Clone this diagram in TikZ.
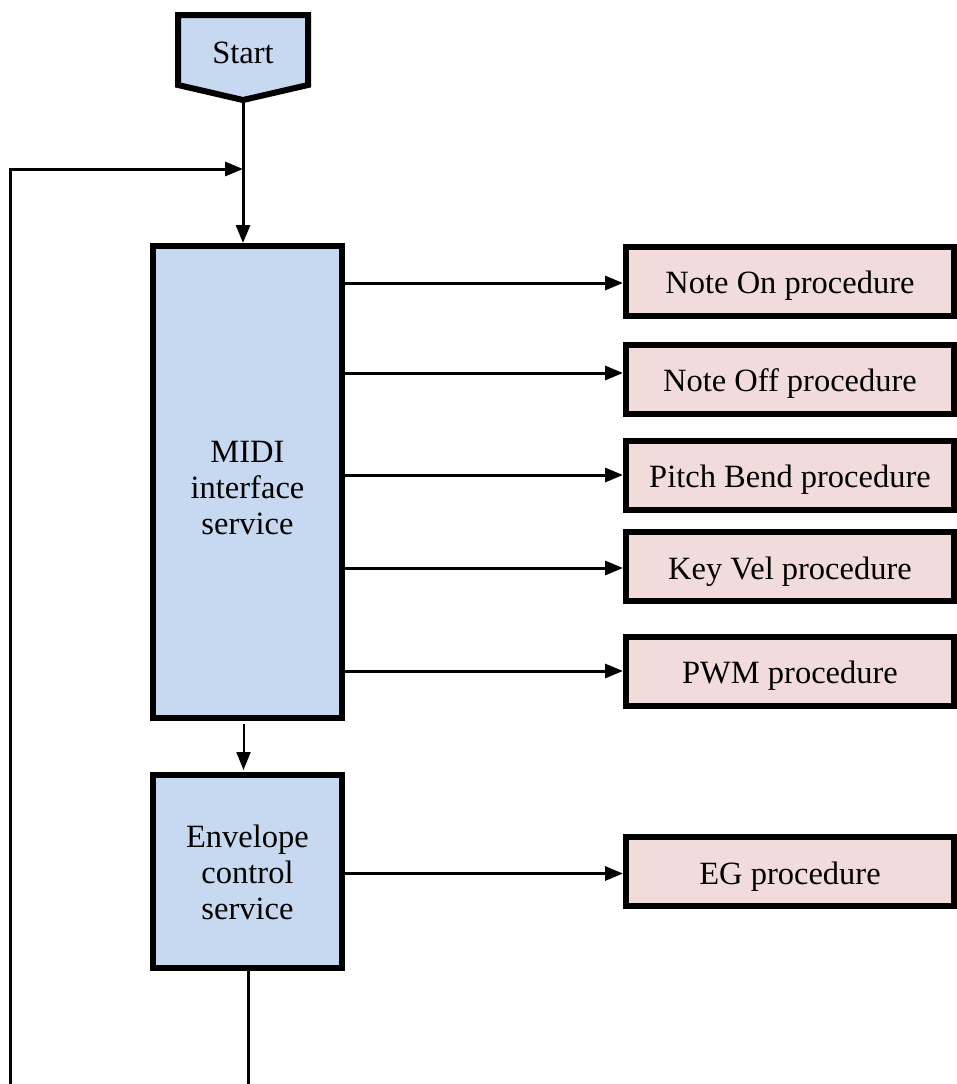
\documentclass[tikz,border=0pt]{standalone}
\usepackage{fontspec}
\setmainfont{Liberation Serif}
\usetikzlibrary{arrows.meta}
\definecolor{svcblue}{HTML}{C6D9F0}
\definecolor{procpink}{HTML}{F2DCDB}
% shift a label down without changing the size TikZ centres on
\newcommand{\lowered}[2][5pt]{\raisebox{-#1}[\height][\depth]{#2}}
\newcommand{\stack}[1]{\begin{tabular}{@{}c@{}}#1\end{tabular}}
\begin{document}
\begin{tikzpicture}[x=1pt,y=-1pt,
  every node/.style={font=\fontsize{32.5}{36}\selectfont, inner sep=0pt, align=center},
  service/.style={draw, line width=6pt, fill=svcblue, minimum width=189pt},
  proc/.style={draw, line width=6pt, fill=procpink, minimum width=328pt, minimum height=69pt},
  flow/.style={line width=3pt, -{Triangle[length=18pt,width=14pt]}},
  thinflow/.style={line width=2pt, -{Triangle[length=18pt,width=14pt]}},
  plain/.style={line width=3pt}]
\useasboundingbox (0,0) rectangle (957,1084);

% start terminal: a downward-pointing pentagon
\draw[line width=6pt, fill=svcblue, line join=miter]
  (178,15) -- (308,15) -- (308,85) -- (243,100) -- (178,85) -- cycle;
\node (start) at (243,53) {Start};
\coordinate (starttip) at (243,100);

% services
\node[service, minimum height=472pt] (midi) at (247.5,482)
  {\lowered[9pt]{\stack{MIDI\\interface\\service}}};
\node[service, minimum height=193pt] (env) at (247.5,871.5)
  {\lowered[5pt]{\stack{Envelope\\control\\service}}};

% procedures
\node[proc] (noteon)  at (790,281) {\lowered{Note On procedure}};
\node[proc] (noteoff) at (790,379) {\lowered{Note Off procedure}};
\node[proc] (pitch)   at (790,475) {\lowered{Pitch Bend procedure}};
\node[proc] (keyvel)  at (790,566.5) {\lowered{Key Vel procedure}};
\node[proc] (pwm)     at (790,671) {\lowered{PWM procedure}};
\node[proc] (eg)      at (790,871.5) {\lowered{EG procedure}};

% main loop
\coordinate (join) at (243,169);
\coordinate (loopend) at (10,1084);
\coordinate (envexit) at (248,1084);
\draw[plain] (starttip) -- (join);
\draw[flow] (join) -- (join |- midi.north);
\draw[flow] (loopend) |- (join);
\draw[plain] (env.south -| envexit) -- (envexit);
\draw[thinflow] (243.5,724) -- (243.5,770);

% dispatch to procedures
\draw[flow] ([yshift=-2pt]midi.east |- noteon.west) -- ([yshift=-2pt]noteon.west);
\draw[flow] ([yshift=6pt]midi.east |- noteoff.west) -- ([yshift=6pt]noteoff.west);
\draw[flow] (midi.east |- pitch.west) -- (pitch.west);
\draw[flow] ([yshift=-1.5pt]midi.east |- keyvel.west) -- ([yshift=-1.5pt]keyvel.west);
\draw[flow] (midi.east |- pwm.west) -- (pwm.west);
\draw[flow] ([yshift=-2pt]env.east |- eg.west) -- ([yshift=-2pt]eg.west);
\end{tikzpicture}
\end{document}
